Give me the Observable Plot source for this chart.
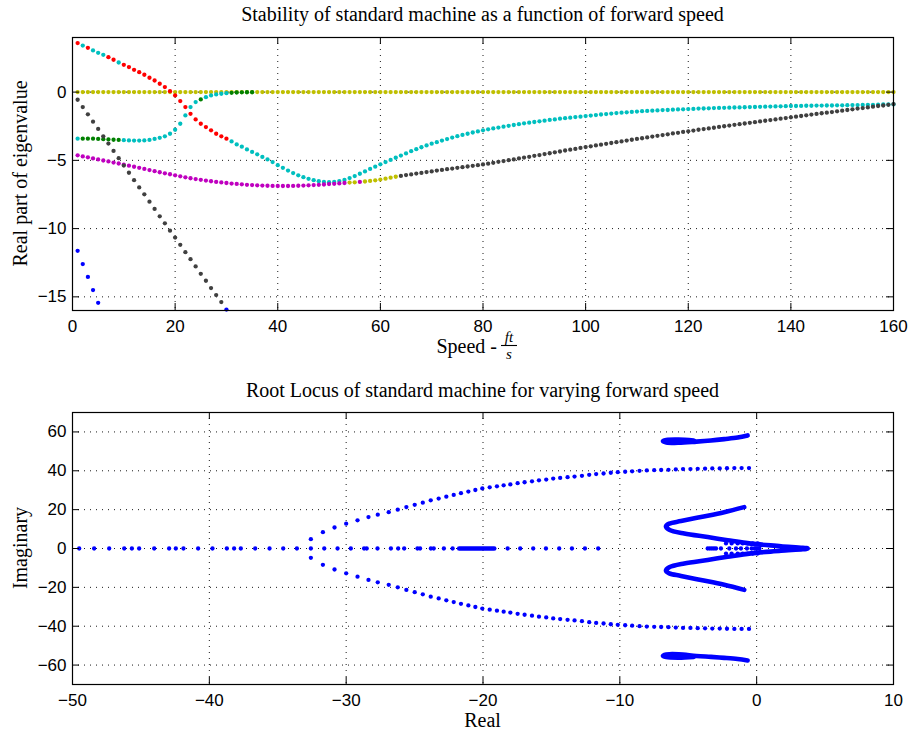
<!DOCTYPE html>
<html><head><meta charset="utf-8">
<script src="https://cdn.jsdelivr.net/npm/d3@7"></script>
<script src="https://cdn.jsdelivr.net/npm/@observablehq/plot@0.6"></script>
<style>
body{margin:0;background:#fff;}
#chart{width:909px;}
#chart svg{display:block;}
</style></head><body><div id="chart"></div>
<script>
// ---------- Top chart data: real part of eigenvalues vs forward speed ----------
const speed = [1,2,3,4,5,6,7,8,9,10,11,12,13,14,15,16,17,18,19,20,21,22,23,24,25,26,27,28,29,30,
31,32,33,34,35,36,37,38,39,40,41,42,43,44,45,46,47,48,49,50,51,52,53,54,55,56,57,58,59,60,
61,62,63,64,65,66,67,68,69,70,71,72,73,74,75,76,77,78,79,80,81,82,83,84,85,86,87,88,89,90,
91,92,93,94,95,96,97,98,99,100,101,102,103,104,105,106,107,108,109,110,111,112,113,114,115,116,117,118,119,120,
121,122,123,124,125,126,127,128,129,130,131,132,133,134,135,136,137,138,139,140,141,142,143,144,145,146,147,148,149,150,
151,152,153,154,155,156,157,158,159,160];

const zeroRe = [0,0,0,0,0,0,0,0,0,0,0,0,0,0,0,0,0,0,0,0,0,0,0,0,0,0,0,0,0,0,0,0,0,0,0,0,0,0,0,0,
0,0,0,0,0,0,0,0,0,0,0,0,0,0,0,0,0,0,0,0,0,0,0,0,0,0,0,0,0,0,0,0,0,0,0,0,0,0,0,0,
0,0,0,0,0,0,0,0,0,0,0,0,0,0,0,0,0,0,0,0,0,0,0,0,0,0,0,0,0,0,0,0,0,0,0,0,0,0,0,0,
0,0,0,0,0,0,0,0,0,0,0,0,0,0,0,0,0,0,0,0,0,0,0,0,0,0,0,0,0,0,0,0,0,0,0,0,0,0,0,0];

const weaveRe = [3.59,3.41,3.24,3.05,2.88,2.73,2.56,2.37,2.17,2.00,
1.83,1.63,1.46,1.27,1.05,0.85,0.61,0.37,0.07,-0.24,
-0.66,-1.10,-1.59,-2.00,-2.32,-2.56,-2.80,-3.05,-3.24,-3.41,
-3.61,-3.83,-4.00,-4.20,-4.38,-4.56,-4.75,-4.93,-5.13,-5.35,
-5.55,-5.75,-5.93,-6.10,-6.23,-6.35,-6.45,-6.53,-6.58,-6.60,
-6.58,-6.52,-6.44,-6.30,-6.15,-5.98,-5.81,-5.63,-5.46,-5.29,
-5.13,-4.97,-4.81,-4.65,-4.49,-4.33,-4.18,-4.04,-3.91,-3.78,
-3.67,-3.55,-3.44,-3.33,-3.23,-3.14,-3.05,-2.96,-2.88,-2.80,
-2.73,-2.66,-2.60,-2.53,-2.47,-2.41,-2.35,-2.29,-2.24,-2.19,
-2.14,-2.09,-2.04,-2.00,-1.95,-1.91,-1.87,-1.83,-1.80,-1.76,
-1.72,-1.68,-1.64,-1.61,-1.57,-1.54,-1.51,-1.48,-1.45,-1.43,
-1.40,-1.38,-1.36,-1.34,-1.32,-1.31,-1.29,-1.27,-1.26,-1.24,
-1.23,-1.21,-1.20,-1.19,-1.17,-1.16,-1.15,-1.14,-1.13,-1.12,
-1.11,-1.10,-1.09,-1.08,-1.07,-1.06,-1.05,-1.04,-1.03,-1.02,
-1.02,-1.01,-1.00,-1.00,-0.99,-0.99,-0.98,-0.98,-0.97,-0.97,
-0.96,-0.95,-0.95,-0.94,-0.93,-0.93,-0.92,-0.91,-0.91,-0.90];

const lowRe = [-4.63,-4.71,-4.78,-4.86,-4.93,-5.01,-5.08,-5.16,-5.23,-5.31,
-5.39,-5.47,-5.55,-5.63,-5.71,-5.79,-5.87,-5.95,-6.02,-6.10,
-6.17,-6.24,-6.31,-6.37,-6.43,-6.48,-6.53,-6.58,-6.62,-6.66,
-6.70,-6.73,-6.76,-6.79,-6.81,-6.83,-6.85,-6.86,-6.87,-6.88,
-6.88,-6.88,-6.87,-6.86,-6.85,-6.83,-6.81,-6.79,-6.77,-6.74,
-6.72,-6.69,-6.66,-6.63,-6.61,-6.58,-6.55,-6.51,-6.46,-6.41,
-6.34,-6.27,-6.20,-6.14,-6.08,-6.03,-5.97,-5.92,-5.86,-5.81,
-5.75,-5.70,-5.65,-5.60,-5.55,-5.50,-5.45,-5.40,-5.35,-5.30,
-5.24,-5.18,-5.11,-5.05,-4.99,-4.93,-4.86,-4.80,-4.74,-4.67,
-4.61,-4.54,-4.48,-4.41,-4.35,-4.28,-4.22,-4.16,-4.09,-4.03,
-3.97,-3.91,-3.85,-3.79,-3.73,-3.67,-3.61,-3.55,-3.49,-3.43,
-3.38,-3.32,-3.26,-3.20,-3.15,-3.09,-3.03,-2.98,-2.92,-2.87,
-2.82,-2.76,-2.71,-2.66,-2.61,-2.55,-2.50,-2.45,-2.40,-2.35,
-2.30,-2.25,-2.20,-2.15,-2.10,-2.05,-2.00,-1.95,-1.90,-1.85,
-1.80,-1.75,-1.70,-1.65,-1.60,-1.55,-1.51,-1.46,-1.41,-1.36,
-1.31,-1.26,-1.21,-1.17,-1.12,-1.07,-1.02,-0.98,-0.93,-0.88];

const sideRe = [-3.41,-3.41,-3.41,-3.41,-3.43,-3.45,-3.47,-3.49,-3.50,-3.52,
-3.54,-3.55,-3.55,-3.54,-3.50,-3.43,-3.35,-3.24,-3.05,-2.76,
-2.32,-1.71,-1.10,-0.73,-0.54,-0.37,-0.24,-0.17,-0.12,-0.08,
-0.05,-0.03,-0.02,-0.01,-0.01];

const descRe = [-0.56,-1.10,-1.63,-2.17,-2.70,-3.24,-3.77,-4.31,-4.84,-5.38,
-5.91,-6.45,-6.98,-7.49,-8.03,-8.56,-9.10,-9.61,-10.15,-10.66,
-11.19,-11.73,-12.24,-12.77,-13.31,-13.82,-14.36,-14.87,-15.38];

const blueSpeed = [1,2,3,4,5,30];
const blueRe = [-11.63,-12.60,-13.54,-14.50,-15.44,-15.93];

// colour of each run of points (MATLAB colour-order codes)
const weaveSeg = [[1,1,"r"],[2,2,"c"],[3,3,"r"],[4,6,"c"],[7,8,"r"],[9,9,"c"],[10,30,"r"],[31,160,"c"]];
const lowSeg = [[1,53,"m"],[54,55,"y"],[56,56,"m"],[57,63,"y"],[64,160,"k"]];
const sideSeg = [[1,1,"c"],[2,9,"g"],[10,24,"c"],[25,25,"g"],[26,30,"c"],[31,35,"g"]];

const speedTicks = [0,20,40,60,80,100,120,140,160];
const reTicks = [-15,-10,-5,0];

// ---------- Bottom chart data: root locus ----------
const parabolaRe = [-32.58,-31.70,-30.85,-30.00,-29.17,-28.37,-27.69,-26.89,-26.23,-25.60,
-24.99,-24.40,-23.82,-23.24,-22.68,-22.14,-21.61,-21.07,-20.56,-20.05,
-19.51,-18.98,-18.49,-18.00,-17.47,-16.96,-16.42,-15.91,-15.38,-14.87,
-14.36,-13.82,-13.31,-12.77,-12.24,-11.73,-11.19,-10.66,-10.15,-9.61,
-9.10,-8.56,-8.03,-7.49,-6.98,-6.45,-5.91,-5.38,-4.84,-4.31,
-3.77,-3.24,-2.70,-2.17,-1.63,-1.10,-0.56];
const parabolaIm = [4.8,8.4,10.8,12.8,14.5,16.2,17.4,18.7,20.0,21.3,
22.5,23.6,24.8,25.7,26.7,27.6,28.5,29.3,30.1,30.9,
31.5,32.0,32.5,33.0,33.6,34.1,34.6,35.1,35.5,36.0,
36.3,36.7,37.0,37.4,37.9,38.3,38.6,39.0,39.3,39.5,
39.7,40.0,40.2,40.3,40.4,40.5,40.7,40.9,40.9,41.0,
41.1,41.2,41.2,41.3,41.4,41.4,41.4];
const parabolaImConj = [-4.8,-8.4,-10.8,-12.8,-14.5,-16.2,-17.4,-18.7,-20.0,-21.3,
-22.5,-23.6,-24.8,-25.7,-26.7,-27.6,-28.5,-29.3,-30.1,-30.9,
-31.5,-32.0,-32.5,-33.0,-33.6,-34.1,-34.6,-35.1,-35.5,-36.0,
-36.3,-36.7,-37.0,-37.4,-37.9,-38.3,-38.6,-39.0,-39.3,-39.5,
-39.7,-40.0,-40.2,-40.3,-40.4,-40.5,-40.7,-40.9,-40.9,-41.0,
-41.1,-41.2,-41.2,-41.3,-41.4,-41.4,-41.4];

const realAxisRe = [-49.51,-48.42,-47.32,-46.22,-45.66,-45.13,-44.03,-42.94,-42.45,-41.89,
-40.82,-39.77,-38.72,-38.19,-37.70,-36.65,-35.60,-34.60,-33.60,-32.58,
-31.60,-30.63,-29.66,-28.69,-28.50,-27.71,-26.73,-26.20,-25.76,-24.79,
-24.60,-23.81,-23.60,-22.86,-22.22,-18.20,-17.28,-16.33,-15.40,-14.43,
-13.50,-12.55,-11.58,
-3.58,-3.42,-3.27,-3.12,-2.97,-2.61,-2.00,-1.51,-1.15,-0.71,-0.37,-0.15,-0.05,0.05,0.20];

const clusterRe = [-21.74,-19.18];
const clusterIm = [0,0];

const offAxisRe = [-2.24,-1.83,-1.39,-1.02,-0.66,-0.29,0.07];
const offAxisIm = [2.6,2.6,2.6,2.6,2.6,2.6,2.6];
const offAxisImConj = [-2.6,-2.6,-2.6,-2.6,-2.6,-2.6,-2.6];

const sCurveRe = [-0.91,-2.37,-4.07,-5.53,-6.39,-6.63,-6.39,-5.29,-3.58,-2.12,-0.42,1.78,3.73,
1.78,-0.42,-2.12,-3.58,-5.29,-6.39,-6.63,-6.39,-5.53,-4.07,-2.37,-0.91];
const sCurveIm = [21.3,18.7,16.2,14.1,12.8,11.4,9.7,7.7,5.9,4.25,2.5,1.2,0,
-1.2,-2.5,-4.25,-5.9,-7.7,-9.7,-11.4,-12.8,-14.1,-16.2,-18.7,-21.3];

const hookRe = [-0.66,-1.39,-2.37,-3.34,-4.40,-5.70,-6.60,-6.85,-6.60,-5.70,-4.60];
const hookUpIm = [58.2,57.1,56.3,55.6,55.0,54.4,54.6,55.3,55.9,56.1,55.6];
const hookLoIm = [-57.6,-56.9,-56.3,-55.8,-55.3,-54.4,-54.5,-55.2,-55.9,-56.2,-55.8];

const realTicks = [-50,-40,-30,-20,-10,0,10];
const imTicks = [-60,-40,-20,0,20,40,60];

// ---------- helpers ----------
const segColor = (segs, s) => { for (const [a,b,c] of segs) if (s >= a && s <= b) return c; return "k"; };
const rows = (xs, ys, segs, col) => ys.map((v, i) => ({speed: xs[i], re: v, col: segs ? segColor(segs, xs[i]) : col}));
const pts = (re, im) => re.map((r, i) => ({re: r, im: im[i]}));

const zeroRows = rows(speed, zeroRe, null, "y");
const sideRows = rows(speed, sideRe, sideSeg);
const weaveRows = rows(speed, weaveRe, weaveSeg);
const lowRows = rows(speed, lowRe, lowSeg);
const descRows = rows(speed, descRe, null, "k");
const blueRows = rows(blueSpeed, blueRe, null, "b");

const matlab = {domain:["b","g","r","c","m","y","k"],
  range:["#0000ff","#008000","#ff0000","#00bfbf","#bf00bf","#bfbf00","#404040"]};

const W = 909, ML = 72, MR = 16, innerW = W - ML - MR, TICK = 7;
const grid = {stroke:"#000", strokeWidth:1, strokeDasharray:"1,5", strokeOpacity:0.9};
const sans = "'Liberation Sans', Arial, Helvetica, sans-serif";
const serif = "'Liberation Serif', 'Times New Roman', Times, serif";
const R = 2.15;

// ---------- Top plot ----------
const H1 = 370, MT1 = 37, MB1 = 60, innerH1 = H1 - MT1 - MB1;
const topChart = Plot.plot({
  width: W, height: H1, marginLeft: ML, marginRight: MR, marginTop: MT1, marginBottom: MB1,
  style: {fontFamily: sans, fontSize: "17px", color: "#000", background: "#fff"},
  x: {domain: [0,160], ticks: speedTicks, tickSize: 0, tickPadding: 9, label: null},
  y: {domain: [-16,4], ticks: reTicks, tickSize: 0, tickPadding: 6, label: null},
  color: matlab,
  marks: [
    Plot.ruleX(speedTicks.slice(1,-1), {x: d => d, ...grid}),
    Plot.ruleY(reTicks, {y: d => d, ...grid}),
    Plot.dot(zeroRows, {x:"speed", y:"re", fill:"col", r:R}),
    Plot.dot(sideRows, {x:"speed", y:"re", fill:"col", r:R}),
    Plot.dot(weaveRows, {x:"speed", y:"re", fill:"col", r:R}),
    Plot.dot(lowRows, {x:"speed", y:"re", fill:"col", r:R}),
    Plot.dot(descRows, {x:"speed", y:"re", fill:"col", r:R}),
    Plot.dot(blueRows, {x:"speed", y:"re", fill:"col", r:R}),
    Plot.frame({stroke:"#000", strokeWidth:1.2}),
    Plot.tickX(speedTicks, {x: d => d, insetTop: innerH1 - TICK, stroke:"#000"}),
    Plot.tickX(speedTicks, {x: d => d, insetBottom: innerH1 - TICK, stroke:"#000"}),
    Plot.tickY(reTicks, {y: d => d, insetLeft: innerW - TICK, stroke:"#000"}),
    Plot.tickY(reTicks, {y: d => d, insetRight: innerW - TICK, stroke:"#000"})
  ]
});
{
  const s = d3.select(topChart);
  const cx = ML + innerW / 2;
  s.append("text").attr("x", cx).attr("y", 21).attr("text-anchor","middle")
    .attr("font-family", serif).attr("font-size", 20).text("Stability of standard machine as a function of forward speed");
  s.append("text").attr("transform", `translate(27,${MT1 + innerH1/2}) rotate(-90)`).attr("text-anchor","middle")
    .attr("font-family", serif).attr("font-size", 20).text("Real part of eigenvalue");
  s.append("text").attr("x", 497).attr("y", 353).attr("text-anchor","end")
    .attr("font-family", serif).attr("font-size", 20).text("Speed -");
  s.append("text").attr("x", 509).attr("y", 342).attr("text-anchor","middle")
    .attr("font-family", serif).attr("font-style","italic").attr("font-size", 15).text("ft");
  s.append("line").attr("x1", 501).attr("x2", 517).attr("y1", 345.5).attr("y2", 345.5)
    .attr("stroke","#000").attr("stroke-width",1.1);
  s.append("text").attr("x", 509).attr("y", 359).attr("text-anchor","middle")
    .attr("font-family", serif).attr("font-style","italic").attr("font-size", 15).text("s");
}

// ---------- Bottom plot ----------
const H2 = 365, MT2 = 42, MB2 = 51, innerH2 = H2 - MT2 - MB2;
const blue = "#0000ff";
const thick = {stroke: blue, strokeWidth: 4.6, strokeLinecap:"round", strokeLinejoin:"round", curve:"catmull-rom"};
const bottomChart = Plot.plot({
  width: W, height: H2, marginLeft: ML, marginRight: MR, marginTop: MT2, marginBottom: MB2,
  style: {fontFamily: sans, fontSize: "17px", color: "#000", background: "#fff"},
  x: {domain: [-50,10], ticks: realTicks, tickSize: 0, tickPadding: 9, label: null},
  y: {domain: [-70,70], ticks: imTicks, tickSize: 0, tickPadding: 6, label: null},
  marks: [
    Plot.ruleX(realTicks.slice(1,-1), {x: d => d, ...grid}),
    Plot.ruleY(imTicks, {y: d => d, ...grid}),
    Plot.line(pts(clusterRe, clusterIm), {x:"re", y:"im", ...thick}),
    Plot.line(pts(sCurveRe, sCurveIm), {x:"re", y:"im", ...thick}),
    Plot.line(pts(hookRe, hookUpIm), {x:"re", y:"im", ...thick}),
    Plot.line(pts(hookRe, hookLoIm), {x:"re", y:"im", ...thick}),
    Plot.dot(pts(parabolaRe, parabolaIm), {x:"re", y:"im", fill: blue, r: R}),
    Plot.dot(pts(parabolaRe, parabolaImConj), {x:"re", y:"im", fill: blue, r: R}),
    Plot.dot(realAxisRe, {x: d => d, y: () => 0, fill: blue, r: R}),
    Plot.dot(pts(offAxisRe, offAxisIm), {x:"re", y:"im", fill: blue, r: R}),
    Plot.dot(pts(offAxisRe, offAxisImConj), {x:"re", y:"im", fill: blue, r: R}),
    Plot.frame({stroke:"#000", strokeWidth:1.2}),
    Plot.tickX(realTicks, {x: d => d, insetTop: innerH2 - TICK, stroke:"#000"}),
    Plot.tickX(realTicks, {x: d => d, insetBottom: innerH2 - TICK, stroke:"#000"}),
    Plot.tickY(imTicks, {y: d => d, insetLeft: innerW - TICK, stroke:"#000"}),
    Plot.tickY(imTicks, {y: d => d, insetRight: innerW - TICK, stroke:"#000"})
  ]
});
{
  const s = d3.select(bottomChart);
  const cx = ML + innerW / 2;
  s.append("text").attr("x", cx).attr("y", 26.5).attr("text-anchor","middle")
    .attr("font-family", serif).attr("font-size", 20).text("Root Locus of standard machine for varying forward speed");
  s.append("text").attr("transform", `translate(27,${MT2 + innerH2/2}) rotate(-90)`).attr("text-anchor","middle")
    .attr("font-family", serif).attr("font-size", 20).text("Imaginary");
  s.append("text").attr("x", cx).attr("y", 357).attr("text-anchor","middle")
    .attr("font-family", serif).attr("font-size", 20).text("Real");
}

document.getElementById("chart").append(topChart, bottomChart);
</script></body></html>
